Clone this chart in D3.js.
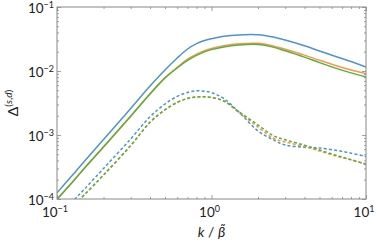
<!DOCTYPE html>
<meta charset="utf-8">
<style>
  body { margin: 0; background: #fff; }
  text { font-family: Lato, "Open Sans", sans-serif; fill: #222; }
</style>
<svg id="chart" width="377" height="245"></svg>
<script src="https://d3js.org/d3.v7.min.js"></script>
<script>

// k / beta grid shared by all series
var kVals = [0.1, 0.13, 0.15, 0.2, 0.3, 0.4, 0.5, 0.6, 0.7, 0.8, 0.9, 1, 1.2, 1.5, 2, 2.5, 3, 4, 5, 6.5, 8, 10];

// solid curves
var blueSolid   = [1.25e-4, 2.58e-4, 3.85e-4, 8.51e-4, 2.60e-3, 5.83e-3, 0.01037, 0.01596, 0.02208, 0.0268, 0.02997, 0.03198, 0.03484, 0.03664, 0.0368, 0.0340, 0.0305, 0.02476, 0.02054, 0.01655, 0.01407, 0.01155];
var orangeSolid = [1.00e-4, 2.02e-4, 3.02e-4, 6.56e-4, 1.98e-3, 4.42e-3, 7.87e-3, 0.0114, 0.01534, 0.01835, 0.02075, 0.02254, 0.02486, 0.02659, 0.02708, 0.02466, 0.02183, 0.01772, 0.01469, 0.01201, 0.0104, 0.00908];
var greenSolid  = [9.89e-5, 2.00e-4, 2.99e-4, 6.49e-4, 1.96e-3, 4.37e-3, 7.78e-3, 0.01117, 0.01469, 0.01758, 0.01988, 0.02159, 0.02381, 0.02547, 0.02594, 0.02362, 0.02069, 0.01648, 0.01353, 0.0109, 0.00934, 0.00806];

// dashed curves
var blueDashed   = [4.87e-5, 9.82e-5, 1.41e-4, 3.0e-4, 8.69e-4, 1.93e-3, 3.05e-3, 4.01e-3, 4.61e-3, 4.92e-3, 4.83e-3, 4.60e-3, 3.72e-3, 2.30e-3, 1.155e-3, 8.47e-4, 6.98e-4, 6.43e-4, 6.26e-4, 5.73e-4, 5.20e-4, 4.61e-4];
var orangeDashed = [4.14e-5, 8.05e-5, 1.155e-4, 2.37e-4, 6.85e-4, 1.58e-3, 2.48e-3, 3.23e-3, 3.73e-3, 3.93e-3, 3.95e-3, 3.87e-3, 3.40e-3, 2.25e-3, 1.33e-3, 8.97e-4, 7.78e-4, 6.61e-4, 5.62e-4, 4.65e-4, 4.11e-4, 3.52e-4];
var greenDashed  = [4.14e-5, 8.05e-5, 1.155e-4, 2.37e-4, 6.85e-4, 1.58e-3, 2.48e-3, 3.23e-3, 3.73e-3, 3.93e-3, 3.95e-3, 3.87e-3, 3.40e-3, 2.33e-3, 1.43e-3, 9.82e-4, 8.41e-4, 6.93e-4, 5.83e-4, 4.75e-4, 4.11e-4, 3.46e-4];

var xMajor = [0.1, 1, 10], xExp = [-1, 0, 1];
var yMajor = [1e-1, 1e-2, 1e-3, 1e-4], yExp = [-1, -2, -3, -4];

var series = [
  {v: blueSolid,    c: "#4d94cf", dash: null},
  {v: orangeSolid,  c: "#f79a47", dash: null},
  {v: greenSolid,   c: "#5aad3e", dash: null},
  {v: blueDashed,   c: "#4d94cf", dash: "3,2.2"},
  {v: orangeDashed, c: "#f79a47", dash: "3,2.2"},
  {v: greenDashed,  c: "#5aad3e", dash: "3,2.2"}
];

var svg = d3.select("#chart");
var m = {left: 57, right: 11, top: 7, bottom: 46};
var W = 377 - m.left - m.right, H = 245 - m.top - m.bottom;

var x = d3.scaleLog().domain([0.1, 10]).range([0, W]);
var y = d3.scaleLog().domain([1e-4, 1e-1]).range([H, 0]);

var g = svg.append("g").attr("transform", "translate(" + m.left + "," + m.top + ")");

g.append("clipPath").attr("id", "clip")
  .append("rect").attr("width", W).attr("height", H);

function minors(lo, hi) {
  var out = [];
  for (var e = lo; e < hi; e++)
    for (var j = 2; j <= 9; j++) out.push(j * Math.pow(10, e));
  return out;
}
var xMinor = minors(-1, 1), yMinor = minors(-4, -1);

// lines
var line = d3.line()
  .x(function(d) { return x(d[0]); })
  .y(function(d) { return y(d[1]); })
  .curve(d3.curveCatmullRom.alpha(0.5));

var plot = g.append("g").attr("clip-path", "url(#clip)");
series.forEach(function(s) {
  plot.append("path")
    .datum(kVals.map(function(k, i) { return [k, s.v[i]]; }))
    .attr("d", line)
    .attr("fill", "none")
    .attr("stroke", s.c)
    .attr("stroke-width", 1.5)
    .attr("stroke-dasharray", s.dash);
});

// frame + inward ticks on all four sides
function axis(gen, vals, size, tr) {
  var a = g.append("g").attr("transform", tr)
    .call(gen.tickValues(vals).tickSize(size).tickFormat(""));
  a.select(".domain").remove();
  a.selectAll("line").attr("stroke", "#888").attr("stroke-width", 0.8);
}
axis(d3.axisBottom(x), xMajor, -4, "translate(0," + H + ")");
axis(d3.axisBottom(x), xMinor, -2, "translate(0," + H + ")");
axis(d3.axisTop(x), xMajor, -4, "translate(0,0)");
axis(d3.axisTop(x), xMinor, -2, "translate(0,0)");
axis(d3.axisLeft(y), yMajor, -4, "translate(0,0)");
axis(d3.axisLeft(y), yMinor, -2, "translate(0,0)");
axis(d3.axisRight(y), yMajor, -4, "translate(" + W + ",0)");
axis(d3.axisRight(y), yMinor, -2, "translate(" + W + ",0)");

g.append("rect").attr("width", W).attr("height", H)
  .attr("fill", "none").attr("stroke", "#888").attr("stroke-width", 1);

// tick labels
function powLabel(sel, e) {
  sel.append("tspan").text("10");
  sel.append("tspan").attr("dy", -5).attr("font-size", 9).text(e < 0 ? "\u2212" + (-e) : e);
}
xMajor.forEach(function(v, i) {
  var t = g.append("text").attr("x", x(v) - 2).attr("y", H + 18)
    .attr("text-anchor", "middle").attr("font-size", 13.5);
  powLabel(t, xExp[i]);
});
yMajor.forEach(function(v, i) {
  var t = g.append("text").attr("x", -3).attr("y", y(v) + 5.5)
    .attr("text-anchor", "end").attr("font-size", 13.5);
  powLabel(t, yExp[i]);
});

// axis titles
var xl = svg.append("text").attr("x", m.left + W / 2).attr("y", 237)
  .attr("text-anchor", "middle").attr("font-size", 14);
xl.append("tspan").attr("font-style", "italic").text("k");
xl.append("tspan").text(" / ");
xl.append("tspan").attr("font-style", "italic").text("\u03B2\u0303");

var yl = svg.append("text")
  .attr("transform", "translate(18," + (m.top + H / 2) + ") rotate(-90)")
  .attr("text-anchor", "middle").attr("font-size", 14);
yl.append("tspan").text("\u0394");
yl.append("tspan").attr("dy", -6).attr("font-size", 10).text("(");
yl.append("tspan").attr("font-size", 10).attr("font-style", "italic").text("s");
yl.append("tspan").attr("font-size", 10).text(",");
yl.append("tspan").attr("font-size", 10).attr("font-style", "italic").text("d");
yl.append("tspan").attr("font-size", 10).text(")");

</script>
